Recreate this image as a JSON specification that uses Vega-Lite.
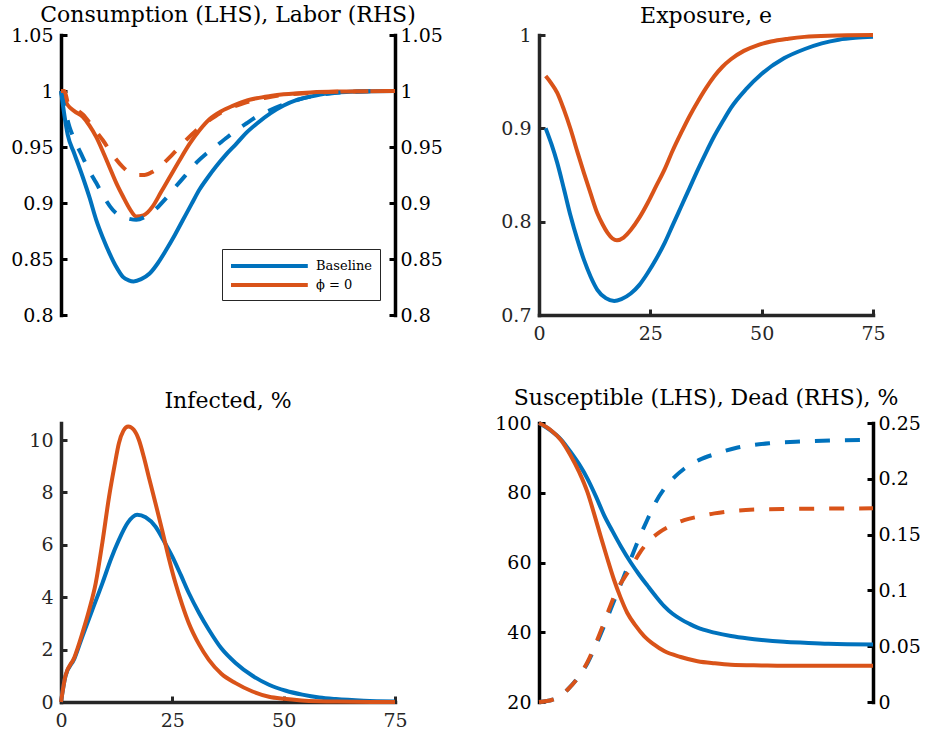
{
 "$schema": "https://vega.github.io/schema/vega-lite/v6.json",
 "background": "white",
 "padding": {"left": 10, "top": 4, "right": 0, "bottom": 0},
 "autosize": {"type": "pad"},
 "config": {
  "font": "DejaVu Serif",
  "view": {"stroke": null},
  "axis": {"grid": false, "title": null, "domainWidth": 3.5, "tickWidth": 3, "tickSize": -6, "labelFont": "DejaVu Serif", "labelFontSize": 19, "labelFlush": false, "labelOverlap": false, "domainColor": "#262626", "tickColor": "#262626", "labelColor": "#262626", "domainCap": "square"},
  "axisLeft": {"labelPadding": 14},
  "axisRight": {"labelPadding": 11},
  "axisBottom": {"labelPadding": 15},
  "title": {"font": "DejaVu Serif", "fontSize": 22, "fontWeight": "normal", "color": "black", "anchor": "middle"},
  "line": {"strokeWidth": 4, "interpolate": "monotone"}
 },
 "datasets": {
  "cons": [
   {"t":0,"s":"Baseline","v":1.0},{"t":1.5,"s":"Baseline","v":0.961},{"t":3,"s":"Baseline","v":0.944},{"t":4.9,"s":"Baseline","v":0.923},{"t":6.4,"s":"Baseline","v":0.905},{"t":7.9,"s":"Baseline","v":0.885},{"t":9.4,"s":"Baseline","v":0.869},{"t":10.9,"s":"Baseline","v":0.855},{"t":12.4,"s":"Baseline","v":0.843},{"t":13.9,"s":"Baseline","v":0.834},{"t":15.2,"s":"Baseline","v":0.831},{"t":16.3,"s":"Baseline","v":0.830},{"t":18,"s":"Baseline","v":0.832},{"t":19.9,"s":"Baseline","v":0.837},{"t":21.7,"s":"Baseline","v":0.846},{"t":23.6,"s":"Baseline","v":0.858},{"t":25.5,"s":"Baseline","v":0.871},{"t":27.4,"s":"Baseline","v":0.885},{"t":29.3,"s":"Baseline","v":0.899},{"t":31.1,"s":"Baseline","v":0.912},{"t":33,"s":"Baseline","v":0.923},{"t":34.9,"s":"Baseline","v":0.933},{"t":37,"s":"Baseline","v":0.943},{"t":39.4,"s":"Baseline","v":0.953},{"t":41.7,"s":"Baseline","v":0.963},{"t":44,"s":"Baseline","v":0.971},{"t":47,"s":"Baseline","v":0.98},{"t":50,"s":"Baseline","v":0.987},{"t":53,"s":"Baseline","v":0.992},{"t":56,"s":"Baseline","v":0.995},{"t":60,"s":"Baseline","v":0.998},{"t":65,"s":"Baseline","v":0.9993},{"t":70,"s":"Baseline","v":0.9998},{"t":75,"s":"Baseline","v":1.0},
   {"t":0,"s":"ϕ = 0","v":1.0},{"t":1.5,"s":"ϕ = 0","v":0.9875},{"t":3,"s":"ϕ = 0","v":0.982},{"t":4.9,"s":"ϕ = 0","v":0.977},{"t":6.4,"s":"ϕ = 0","v":0.969},{"t":7.9,"s":"ϕ = 0","v":0.959},{"t":9.4,"s":"ϕ = 0","v":0.946},{"t":10.9,"s":"ϕ = 0","v":0.932},{"t":12.4,"s":"ϕ = 0","v":0.918},{"t":13.9,"s":"ϕ = 0","v":0.906},{"t":15.4,"s":"ϕ = 0","v":0.895},{"t":16.9,"s":"ϕ = 0","v":0.888},{"t":18.5,"s":"ϕ = 0","v":0.889},{"t":20.6,"s":"ϕ = 0","v":0.897},{"t":22.5,"s":"ϕ = 0","v":0.91},{"t":24.4,"s":"ϕ = 0","v":0.923},{"t":26.6,"s":"ϕ = 0","v":0.938},{"t":28.9,"s":"ϕ = 0","v":0.953},{"t":31.1,"s":"ϕ = 0","v":0.965},{"t":33.4,"s":"ϕ = 0","v":0.975},{"t":36,"s":"ϕ = 0","v":0.982},{"t":38.7,"s":"ϕ = 0","v":0.987},{"t":41.3,"s":"ϕ = 0","v":0.991},{"t":43.9,"s":"ϕ = 0","v":0.9935},{"t":47,"s":"ϕ = 0","v":0.9955},{"t":50,"s":"ϕ = 0","v":0.997},{"t":56,"s":"ϕ = 0","v":0.9987},{"t":62,"s":"ϕ = 0","v":0.9995},{"t":75,"s":"ϕ = 0","v":1.0}
  ],
  "labor": [
   {"t":0,"s":"Baseline","v":1.0},{"t":1.9,"s":"Baseline","v":0.968},{"t":3.2,"s":"Baseline","v":0.955},{"t":4.5,"s":"Baseline","v":0.944},{"t":6.2,"s":"Baseline","v":0.93},{"t":7.9,"s":"Baseline","v":0.918},{"t":9.7,"s":"Baseline","v":0.905},{"t":11.6,"s":"Baseline","v":0.894},{"t":13.5,"s":"Baseline","v":0.888},{"t":15.2,"s":"Baseline","v":0.886},{"t":16.9,"s":"Baseline","v":0.885},{"t":19,"s":"Baseline","v":0.888},{"t":21.4,"s":"Baseline","v":0.895},{"t":23.3,"s":"Baseline","v":0.903},{"t":25.2,"s":"Baseline","v":0.912},{"t":27.8,"s":"Baseline","v":0.924},{"t":30.4,"s":"Baseline","v":0.936},{"t":32.6,"s":"Baseline","v":0.944},{"t":34.9,"s":"Baseline","v":0.951},{"t":37.1,"s":"Baseline","v":0.958},{"t":39.4,"s":"Baseline","v":0.965},{"t":41.6,"s":"Baseline","v":0.971},{"t":43.9,"s":"Baseline","v":0.977},{"t":47,"s":"Baseline","v":0.983},{"t":50,"s":"Baseline","v":0.988},{"t":53,"s":"Baseline","v":0.992},{"t":56,"s":"Baseline","v":0.995},{"t":60,"s":"Baseline","v":0.9975},{"t":65,"s":"Baseline","v":0.9992},{"t":75,"s":"Baseline","v":1.0},
   {"t":0,"s":"ϕ = 0","v":1.0},{"t":0.8,"s":"ϕ = 0","v":1.0},{"t":1.5,"s":"ϕ = 0","v":0.99},{"t":3.2,"s":"ϕ = 0","v":0.984},{"t":4.9,"s":"ϕ = 0","v":0.979},{"t":7.1,"s":"ϕ = 0","v":0.968},{"t":9.4,"s":"ϕ = 0","v":0.956},{"t":11.6,"s":"ϕ = 0","v":0.943},{"t":13.9,"s":"ϕ = 0","v":0.932},{"t":15.4,"s":"ϕ = 0","v":0.927},{"t":16.9,"s":"ϕ = 0","v":0.925},{"t":18.7,"s":"ϕ = 0","v":0.925},{"t":20.6,"s":"ϕ = 0","v":0.928},{"t":22.9,"s":"ϕ = 0","v":0.935},{"t":25.2,"s":"ϕ = 0","v":0.944},{"t":27.8,"s":"ϕ = 0","v":0.955},{"t":30.4,"s":"ϕ = 0","v":0.965},{"t":33,"s":"ϕ = 0","v":0.973},{"t":35.6,"s":"ϕ = 0","v":0.98},{"t":38.2,"s":"ϕ = 0","v":0.985},{"t":40.9,"s":"ϕ = 0","v":0.989},{"t":43.5,"s":"ϕ = 0","v":0.992},{"t":46,"s":"ϕ = 0","v":0.994},{"t":50,"s":"ϕ = 0","v":0.9965},{"t":55,"s":"ϕ = 0","v":0.998},{"t":60,"s":"ϕ = 0","v":0.999},{"t":75,"s":"ϕ = 0","v":1.0}
  ],
  "expo": [
   {"t":1.5,"s":"Baseline","v":0.9},{"t":2.8,"s":"Baseline","v":0.883},{"t":4.1,"s":"Baseline","v":0.863},{"t":5.6,"s":"Baseline","v":0.835},{"t":7.1,"s":"Baseline","v":0.806},{"t":8.6,"s":"Baseline","v":0.781},{"t":10.1,"s":"Baseline","v":0.759},{"t":11.6,"s":"Baseline","v":0.741},{"t":13.1,"s":"Baseline","v":0.727},{"t":15,"s":"Baseline","v":0.718},{"t":16.9,"s":"Baseline","v":0.715},{"t":18.5,"s":"Baseline","v":0.717},{"t":20.6,"s":"Baseline","v":0.723},{"t":22.5,"s":"Baseline","v":0.732},{"t":24.4,"s":"Baseline","v":0.745},{"t":26.3,"s":"Baseline","v":0.76},{"t":28.2,"s":"Baseline","v":0.777},{"t":30,"s":"Baseline","v":0.796},{"t":31.9,"s":"Baseline","v":0.816},{"t":33.8,"s":"Baseline","v":0.836},{"t":35.7,"s":"Baseline","v":0.856},{"t":37.5,"s":"Baseline","v":0.874},{"t":39.4,"s":"Baseline","v":0.892},{"t":41.2,"s":"Baseline","v":0.907},{"t":43.1,"s":"Baseline","v":0.922},{"t":46.5,"s":"Baseline","v":0.942},{"t":49.9,"s":"Baseline","v":0.958},{"t":55,"s":"Baseline","v":0.975},{"t":59.7,"s":"Baseline","v":0.985},{"t":63.5,"s":"Baseline","v":0.991},{"t":67.3,"s":"Baseline","v":0.995},{"t":71,"s":"Baseline","v":0.997},{"t":75,"s":"Baseline","v":0.998},
   {"t":1.5,"s":"ϕ = 0","v":0.956},{"t":2.8,"s":"ϕ = 0","v":0.948},{"t":4.1,"s":"ϕ = 0","v":0.938},{"t":5.6,"s":"ϕ = 0","v":0.92},{"t":7.1,"s":"ϕ = 0","v":0.899},{"t":8.6,"s":"ϕ = 0","v":0.875},{"t":10.1,"s":"ϕ = 0","v":0.852},{"t":11.6,"s":"ϕ = 0","v":0.83},{"t":13.1,"s":"ϕ = 0","v":0.809},{"t":14.3,"s":"ϕ = 0","v":0.797},{"t":15.4,"s":"ϕ = 0","v":0.788},{"t":16.5,"s":"ϕ = 0","v":0.782},{"t":17.5,"s":"ϕ = 0","v":0.78},{"t":19,"s":"ϕ = 0","v":0.783},{"t":20.6,"s":"ϕ = 0","v":0.791},{"t":22.5,"s":"ϕ = 0","v":0.804},{"t":24.4,"s":"ϕ = 0","v":0.82},{"t":26.3,"s":"ϕ = 0","v":0.838},{"t":28.2,"s":"ϕ = 0","v":0.856},{"t":30,"s":"ϕ = 0","v":0.876},{"t":31.9,"s":"ϕ = 0","v":0.895},{"t":33.8,"s":"ϕ = 0","v":0.913},{"t":35.7,"s":"ϕ = 0","v":0.929},{"t":37.5,"s":"ϕ = 0","v":0.943},{"t":39.4,"s":"ϕ = 0","v":0.956},{"t":41.2,"s":"ϕ = 0","v":0.966},{"t":43.1,"s":"ϕ = 0","v":0.974},{"t":46,"s":"ϕ = 0","v":0.983},{"t":49,"s":"ϕ = 0","v":0.989},{"t":52.1,"s":"ϕ = 0","v":0.993},{"t":56,"s":"ϕ = 0","v":0.996},{"t":59.6,"s":"ϕ = 0","v":0.998},{"t":65,"s":"ϕ = 0","v":0.9993},{"t":75,"s":"ϕ = 0","v":1.0}
  ],
  "inf": [
   {"t":0,"s":"Baseline","v":0},{"t":1,"s":"Baseline","v":0.98},{"t":3,"s":"Baseline","v":1.65},{"t":4.8,"s":"Baseline","v":2.5},{"t":7,"s":"Baseline","v":3.5},{"t":9.3,"s":"Baseline","v":4.54},{"t":11.2,"s":"Baseline","v":5.45},{"t":13,"s":"Baseline","v":6.19},{"t":15,"s":"Baseline","v":6.85},{"t":17.1,"s":"Baseline","v":7.15},{"t":19,"s":"Baseline","v":7.05},{"t":21.2,"s":"Baseline","v":6.7},{"t":23.1,"s":"Baseline","v":6.15},{"t":25,"s":"Baseline","v":5.55},{"t":26.9,"s":"Baseline","v":4.85},{"t":28.7,"s":"Baseline","v":4.16},{"t":31,"s":"Baseline","v":3.4},{"t":33.2,"s":"Baseline","v":2.76},{"t":36,"s":"Baseline","v":2.05},{"t":39.2,"s":"Baseline","v":1.49},{"t":43,"s":"Baseline","v":1.0},{"t":46.7,"s":"Baseline","v":0.66},{"t":50.5,"s":"Baseline","v":0.43},{"t":54.2,"s":"Baseline","v":0.28},{"t":58,"s":"Baseline","v":0.17},{"t":61.7,"s":"Baseline","v":0.11},{"t":68,"s":"Baseline","v":0.05},{"t":75,"s":"Baseline","v":0.02},
   {"t":0,"s":"ϕ = 0","v":0},{"t":1,"s":"ϕ = 0","v":1.0},{"t":3,"s":"ϕ = 0","v":1.7},{"t":4.8,"s":"ϕ = 0","v":2.63},{"t":6.3,"s":"ϕ = 0","v":3.5},{"t":7.8,"s":"ϕ = 0","v":4.54},{"t":9.3,"s":"ϕ = 0","v":6.1},{"t":10.8,"s":"ϕ = 0","v":7.84},{"t":12,"s":"ϕ = 0","v":9.0},{"t":13,"s":"ϕ = 0","v":9.88},{"t":14,"s":"ϕ = 0","v":10.35},{"t":15.1,"s":"ϕ = 0","v":10.52},{"t":16.3,"s":"ϕ = 0","v":10.4},{"t":17.5,"s":"ϕ = 0","v":10.0},{"t":18.6,"s":"ϕ = 0","v":9.35},{"t":19.7,"s":"ϕ = 0","v":8.6},{"t":21.2,"s":"ϕ = 0","v":7.6},{"t":22.7,"s":"ϕ = 0","v":6.57},{"t":24.2,"s":"ϕ = 0","v":5.5},{"t":25.7,"s":"ϕ = 0","v":4.54},{"t":27.2,"s":"ϕ = 0","v":3.72},{"t":28.7,"s":"ϕ = 0","v":3.01},{"t":31,"s":"ϕ = 0","v":2.2},{"t":33.2,"s":"ϕ = 0","v":1.61},{"t":36,"s":"ϕ = 0","v":1.08},{"t":39.2,"s":"ϕ = 0","v":0.72},{"t":43,"s":"ϕ = 0","v":0.4},{"t":46.7,"s":"ϕ = 0","v":0.2},{"t":50,"s":"ϕ = 0","v":0.12},{"t":54,"s":"ϕ = 0","v":0.06},{"t":62,"s":"ϕ = 0","v":0.015},{"t":75,"s":"ϕ = 0","v":0.0}
  ],
  "sus": [
   {"t":0,"s":"Baseline","v":100},{"t":2.6,"s":"Baseline","v":97.9},{"t":5,"s":"Baseline","v":95.2},{"t":7.1,"s":"Baseline","v":91.7},{"t":9,"s":"Baseline","v":88.2},{"t":10.9,"s":"Baseline","v":84.0},{"t":12.8,"s":"Baseline","v":78.9},{"t":14.6,"s":"Baseline","v":73.6},{"t":16.5,"s":"Baseline","v":69.0},{"t":18.4,"s":"Baseline","v":64.6},{"t":20.6,"s":"Baseline","v":60.0},{"t":22.5,"s":"Baseline","v":56.5},{"t":24.4,"s":"Baseline","v":53.3},{"t":26.3,"s":"Baseline","v":50.2},{"t":28.1,"s":"Baseline","v":47.5},{"t":30,"s":"Baseline","v":45.3},{"t":31.9,"s":"Baseline","v":43.7},{"t":33.8,"s":"Baseline","v":42.4},{"t":35.6,"s":"Baseline","v":41.3},{"t":39.4,"s":"Baseline","v":39.9},{"t":43.1,"s":"Baseline","v":38.9},{"t":47,"s":"Baseline","v":38.2},{"t":50,"s":"Baseline","v":37.8},{"t":55,"s":"Baseline","v":37.3},{"t":59.6,"s":"Baseline","v":37.0},{"t":65,"s":"Baseline","v":36.7},{"t":75,"s":"Baseline","v":36.5},
   {"t":0,"s":"ϕ = 0","v":100},{"t":2.6,"s":"ϕ = 0","v":98.0},{"t":5,"s":"ϕ = 0","v":95.0},{"t":7.1,"s":"ϕ = 0","v":90.7},{"t":9,"s":"ϕ = 0","v":86.0},{"t":10.9,"s":"ϕ = 0","v":80.1},{"t":12.3,"s":"ϕ = 0","v":74.3},{"t":13.8,"s":"ϕ = 0","v":67.7},{"t":15.3,"s":"ϕ = 0","v":61.3},{"t":16.8,"s":"ϕ = 0","v":55.2},{"t":18.3,"s":"ϕ = 0","v":50.0},{"t":19.8,"s":"ϕ = 0","v":45.6},{"t":21.7,"s":"ϕ = 0","v":41.9},{"t":23.6,"s":"ϕ = 0","v":38.9},{"t":25.8,"s":"ϕ = 0","v":36.5},{"t":28.1,"s":"ϕ = 0","v":34.6},{"t":31.8,"s":"ϕ = 0","v":32.9},{"t":35.6,"s":"ϕ = 0","v":31.7},{"t":39.4,"s":"ϕ = 0","v":31.1},{"t":43.1,"s":"ϕ = 0","v":30.7},{"t":50,"s":"ϕ = 0","v":30.5},{"t":55,"s":"ϕ = 0","v":30.4},{"t":75,"s":"ϕ = 0","v":30.4}
  ],
  "dead": [
   {"t":0,"s":"Baseline","v":0},{"t":3,"s":"Baseline","v":0.002},{"t":4.7,"s":"Baseline","v":0.005},{"t":6.4,"s":"Baseline","v":0.011},{"t":8.6,"s":"Baseline","v":0.021},{"t":10.9,"s":"Baseline","v":0.035},{"t":12.8,"s":"Baseline","v":0.051},{"t":14.6,"s":"Baseline","v":0.068},{"t":16.1,"s":"Baseline","v":0.083},{"t":17.6,"s":"Baseline","v":0.098},{"t":19.1,"s":"Baseline","v":0.113},{"t":20.6,"s":"Baseline","v":0.128},{"t":22.5,"s":"Baseline","v":0.147},{"t":24.4,"s":"Baseline","v":0.164},{"t":26.2,"s":"Baseline","v":0.179},{"t":28.1,"s":"Baseline","v":0.191},{"t":30.3,"s":"Baseline","v":0.201},{"t":32.6,"s":"Baseline","v":0.209},{"t":36,"s":"Baseline","v":0.217},{"t":39.4,"s":"Baseline","v":0.222},{"t":44.6,"s":"Baseline","v":0.228},{"t":52,"s":"Baseline","v":0.232},{"t":59.6,"s":"Baseline","v":0.2335},{"t":67,"s":"Baseline","v":0.2345},{"t":75,"s":"Baseline","v":0.235},
   {"t":0,"s":"ϕ = 0","v":0},{"t":3,"s":"ϕ = 0","v":0.002},{"t":4.7,"s":"ϕ = 0","v":0.005},{"t":6.4,"s":"ϕ = 0","v":0.011},{"t":8.6,"s":"ϕ = 0","v":0.021},{"t":10.9,"s":"ϕ = 0","v":0.036},{"t":12.8,"s":"ϕ = 0","v":0.053},{"t":14.6,"s":"ϕ = 0","v":0.071},{"t":16.1,"s":"ϕ = 0","v":0.087},{"t":17.6,"s":"ϕ = 0","v":0.101},{"t":19.1,"s":"ϕ = 0","v":0.111},{"t":20.6,"s":"ϕ = 0","v":0.12},{"t":22.5,"s":"ϕ = 0","v":0.133},{"t":24.4,"s":"ϕ = 0","v":0.143},{"t":27,"s":"ϕ = 0","v":0.152},{"t":29.6,"s":"ϕ = 0","v":0.158},{"t":32.6,"s":"ϕ = 0","v":0.163},{"t":35.6,"s":"ϕ = 0","v":0.166},{"t":39.4,"s":"ϕ = 0","v":0.169},{"t":43.1,"s":"ϕ = 0","v":0.171},{"t":49,"s":"ϕ = 0","v":0.1725},{"t":55,"s":"ϕ = 0","v":0.173},{"t":65,"s":"ϕ = 0","v":0.1733},{"t":75,"s":"ϕ = 0","v":0.1735}
  ]
 },
 "columns": 2,
 "spacing": {"row": 108, "column": 144},
 "bounds": "flush",
 "resolve": {"scale": {"color": "independent"}, "legend": {"color": "independent"}},
 "concat": [
  {
   "width": 334, "height": 280,
   "title": {"text": "Consumption (LHS), Labor (RHS)", "offset": -1},
   "layer": [
    {
     "data": {"name": "cons"},
     "mark": {"type": "line"},
     "encoding": {
      "x": {"field": "t", "type": "quantitative", "scale": {"domain": [0, 75], "nice": false}, "axis": {"values": [0, 25, 50, 75], "format": "d", "domainColor": "black", "tickColor": "black", "labelColor": "black"}},
      "y": {"field": "v", "type": "quantitative", "scale": {"domain": [0.8, 1.05], "nice": false, "zero": false}, "axis": {"values": [0.8, 0.85, 0.9, 0.95, 1, 1.05], "format": "~g", "domainColor": "black", "tickColor": "black", "labelColor": "black"}},
      "color": {"field": "s", "type": "nominal", "scale": {"domain": ["Baseline", "ϕ = 0"], "range": ["#0072BD", "#D95319"]},
       "legend": {"orient": "bottom-right", "offset": 15, "title": null, "symbolType": "M-1,0H8.6", "symbolSize": 256, "symbolStrokeWidth": 4, "symbolDash": [1, 0], "symbolFillColor": "transparent", "labelFont": "DejaVu Serif", "labelFontSize": 13, "labelColor": "black", "labelOffset": 67, "strokeColor": "#262626", "fillColor": "white", "padding": 7, "rowPadding": 1,
        "encode": {"legend": {"update": {"strokeWidth": {"value": 2.5}}}}}}
     }
    },
    {
     "data": {"name": "labor"},
     "mark": {"type": "line", "strokeDash": [15, 15]},
     "encoding": {
      "x": {"field": "t", "type": "quantitative", "scale": {"domain": [0, 75], "nice": false}, "axis": null},
      "y": {"field": "v", "type": "quantitative", "scale": {"domain": [0.8, 1.05], "nice": false, "zero": false}, "axis": {"orient": "right", "values": [0.8, 0.85, 0.9, 0.95, 1, 1.05], "format": "~g", "domainColor": "black", "tickColor": "black", "labelColor": "black"}},
      "color": {"field": "s", "type": "nominal", "scale": {"domain": ["Baseline", "ϕ = 0"], "range": ["#0072BD", "#D95319"]}, "legend": null}
     }
    }
   ],
   "resolve": {"scale": {"y": "independent"}}
  },
  {
   "width": 334, "height": 280,
   "title": {"text": "Exposure, e", "offset": -2},
   "layer": [
    {
     "data": {"name": "expo"},
     "mark": {"type": "line"},
     "encoding": {
      "x": {"field": "t", "type": "quantitative", "scale": {"domain": [0, 75], "nice": false}, "axis": {"values": [0, 25, 50, 75], "format": "d"}},
      "y": {"field": "v", "type": "quantitative", "scale": {"domain": [0.7, 1], "nice": false, "zero": false}, "axis": {"values": [0.7, 0.8, 0.9, 1], "format": "~g"}},
      "color": {"field": "s", "type": "nominal", "scale": {"domain": ["Baseline", "ϕ = 0"], "range": ["#0072BD", "#D95319"]}, "legend": null}
     }
    },
    {
     "mark": {"type": "rule", "color": "#262626", "strokeWidth": 3.5},
     "encoding": {"y": {"datum": 1}}
    }
   ]
  },
  {
   "width": 334, "height": 279,
   "title": {"text": "Infected, %", "offset": 5},
   "data": {"name": "inf"},
   "mark": {"type": "line"},
   "encoding": {
    "x": {"field": "t", "type": "quantitative", "scale": {"domain": [0, 75], "nice": false}, "axis": {"values": [0, 25, 50, 75], "format": "d"}},
    "y": {"field": "v", "type": "quantitative", "scale": {"domain": [0, 10.65], "nice": false}, "axis": {"values": [0, 2, 4, 6, 8, 10], "format": "d"}},
    "color": {"field": "s", "type": "nominal", "scale": {"domain": ["Baseline", "ϕ = 0"], "range": ["#0072BD", "#D95319"]}, "legend": null}
   }
  },
  {
   "width": 334, "height": 279,
   "title": {"text": "Susceptible (LHS), Dead (RHS), %", "offset": 4},
   "layer": [
    {
     "data": {"name": "sus"},
     "mark": {"type": "line"},
     "encoding": {
      "x": {"field": "t", "type": "quantitative", "scale": {"domain": [0, 75], "nice": false}, "axis": {"values": [0, 25, 50, 75], "format": "d", "domainColor": "black", "tickColor": "black", "labelColor": "black"}},
      "y": {"field": "v", "type": "quantitative", "scale": {"domain": [20, 100], "nice": false, "zero": false}, "axis": {"values": [20, 40, 60, 80, 100], "format": "d", "domainColor": "black", "tickColor": "black", "labelColor": "black"}},
      "color": {"field": "s", "type": "nominal", "scale": {"domain": ["Baseline", "ϕ = 0"], "range": ["#0072BD", "#D95319"]}, "legend": null}
     }
    },
    {
     "data": {"name": "dead"},
     "mark": {"type": "line", "strokeDash": [15, 15]},
     "encoding": {
      "x": {"field": "t", "type": "quantitative", "scale": {"domain": [0, 75], "nice": false}, "axis": null},
      "y": {"field": "v", "type": "quantitative", "scale": {"domain": [0, 0.25], "nice": false, "zero": false}, "axis": {"orient": "right", "values": [0, 0.05, 0.1, 0.15, 0.2, 0.25], "format": "~g", "domainColor": "black", "tickColor": "black", "labelColor": "black"}},
      "color": {"field": "s", "type": "nominal", "scale": {"domain": ["Baseline", "ϕ = 0"], "range": ["#0072BD", "#D95319"]}, "legend": null}
     }
    }
   ],
   "resolve": {"scale": {"y": "independent"}}
  }
 ]
}
